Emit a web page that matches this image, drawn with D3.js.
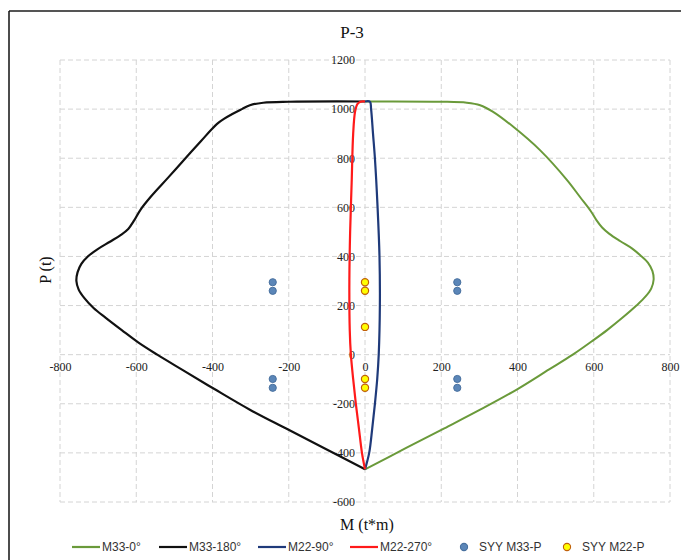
<!DOCTYPE html>
<html>
<head>
<meta charset="utf-8">
<script src="https://cdn.jsdelivr.net/npm/d3@7"></script>
<style>
  body { margin: 0; background: #fff; }
  svg { display: block; }
</style>
</head>
<body>
<svg id="chart" width="681" height="560"></svg>
<script>
// ---- Data ----
const xTicks = [-800, -600, -400, -200, 0, 200, 400, 600, 800];
const yTicks = [-600, -400, -200, 0, 200, 400, 600, 800, 1000, 1200];

// M33-0° (green)
const m33_0_P = [1031, 1030, 1026, 1016, 990, 928, 833, 711, 640, 585, 548, 518, 492, 462, 432, 405, 375, 340, 305, 270, 237, 200, 150, 100, 60, 0, -60, -142, -224, -300, -380, -467];
const m33_0_M = [0, 200, 267, 302, 335, 389, 459, 530, 565, 592, 607, 622, 641, 670, 701, 722, 742, 754, 757, 751, 736, 712, 675, 635, 600, 545, 483, 398, 302, 208, 108, 0];

// M33-180° (black)
const m33_180_P = [1031, 1030, 1026, 1016, 1000, 980, 960, 940, 915, 870, 793, 720, 643, 590, 548, 512, 487, 460, 430, 400, 370, 335, 300, 265, 230, 190, 150, 100, 50, 0, -61, -140, -224, -300, -380, -467];
const m33_180_M = [0, -200, -267, -302, -323, -348, -370, -388, -404, -430, -475, -517, -562, -589, -605, -621, -641, -669, -701, -727, -744, -754, -757, -751, -736, -712, -680, -638, -595, -545, -480, -395, -302, -208, -108, 0];

// M22-90° (blue)
const m22_90_P = [1031, 1030, 1000, 900, 800, 600, 400, 200, 0, -100, -200, -300, -400, -467];
const m22_90_M = [0, 13, 16, 21, 26, 33, 38, 39, 36, 32, 26, 19, 11, 0];

// M22-270° (red)
const m22_270_P = [1031, 1030, 1020, 990, 900, 700, 500, 300, 100, 0, -100, -200, -300, -400, -467];
const m22_270_M = [0, -12, -20, -26, -31, -35, -39, -41, -40, -37, -31, -24, -16, -8, 0];

// SYY points
const syyM33_M = [-242, -242, -242, -242, 242, 242, 242, 242];
const syyM33_P = [295, 260, -99, -135, 295, 260, -99, -135];
const syyM22_M = [0, 0, 0, 0, 0];
const syyM22_P = [295, 260, 113, -99, -135];

const legendLabels = ["M33-0°", "M33-180°", "M22-90°", "M22-270°", "SYY M33-P", "SYY M22-P"];

// ---- Chart ----
const svg = d3.select("#chart");
const x = d3.scaleLinear().domain([-800, 800]).range([60, 670]);
const y = d3.scaleLinear().domain([-600, 1200]).range([502, 60]);

// outer frame
svg.append("line").attr("x1", 9).attr("x2", 681).attr("y1", 11).attr("y2", 11)
  .attr("stroke", "#555").attr("stroke-width", 2);
svg.append("line").attr("x1", 9).attr("x2", 9).attr("y1", 11).attr("y2", 560)
  .attr("stroke", "#111").attr("stroke-width", 1.5);

// grid
const grid = svg.append("g");
grid.selectAll("line.v").data(xTicks).join("line")
  .attr("x1", d => x(d)).attr("x2", d => x(d))
  .attr("y1", y(1200)).attr("y2", y(-600))
  .attr("stroke", "#d4d4d4").attr("stroke-width", 1).attr("stroke-dasharray", "5,3");
grid.selectAll("line.h").data(yTicks).join("line")
  .attr("y1", d => y(d)).attr("y2", d => y(d))
  .attr("x1", x(-800)).attr("x2", x(800))
  .attr("stroke", "#d4d4d4").attr("stroke-width", 1).attr("stroke-dasharray", "5,3");

// axes (labels only)
const tickFont = "'Liberation Serif', 'Times New Roman', serif";
const xAxis = svg.append("g").attr("transform", `translate(0,${y(0)})`)
  .call(d3.axisBottom(x).tickValues(xTicks).tickSize(0).tickPadding(8).tickFormat(d3.format("d")));
const yAxis = svg.append("g").attr("transform", `translate(${x(0)},0)`)
  .call(d3.axisLeft(y).tickValues(yTicks).tickSize(0).tickPadding(10).tickFormat(d3.format("d")));
[xAxis, yAxis].forEach(a => {
  a.select(".domain").remove();
  a.selectAll("text").attr("font-family", tickFont).attr("font-size", 12).attr("fill", "#222");
});
svg.selectAll(".tick text").text(function() { return this.textContent.replace("−", "-"); });

// curves
const line = d3.line().x(d => x(d[0])).y(d => y(d[1])).curve(d3.curveCatmullRom.alpha(0.5));
const zip = (M, P) => M.map((m, i) => [m, P[i]]);
const series = [
  { M: m33_0_M, P: m33_0_P, color: "#6a9a3a", w: 2 },
  { M: m33_180_M, P: m33_180_P, color: "#111111", w: 2.2 },
  { M: m22_90_M, P: m22_90_P, color: "#1f3a7a", w: 2.2 },
  { M: m22_270_M, P: m22_270_P, color: "#ff1a1a", w: 2.2 }
];
series.forEach(s => {
  svg.append("path").datum(zip(s.M, s.P)).attr("d", line)
    .attr("fill", "none").attr("stroke", s.color).attr("stroke-width", s.w)
    .attr("stroke-linejoin", "round");
});

// points
svg.append("g").selectAll("circle").data(zip(syyM33_M, syyM33_P)).join("circle")
  .attr("cx", d => x(d[0])).attr("cy", d => y(d[1])).attr("r", 3.6)
  .attr("fill", "#5b86b8").attr("stroke", "#48709f").attr("stroke-width", 1);
svg.append("g").selectAll("circle").data(zip(syyM22_M, syyM22_P)).join("circle")
  .attr("cx", d => x(d[0])).attr("cy", d => y(d[1])).attr("r", 3.6)
  .attr("fill", "#ffff00").attr("stroke", "#c0600a").attr("stroke-width", 1.2);

// titles
svg.append("text").attr("x", 352).attr("y", 38).attr("text-anchor", "middle")
  .attr("font-family", tickFont).attr("font-size", 17).attr("fill", "#111").text("P-3");
svg.append("text").attr("x", 367).attr("y", 530).attr("text-anchor", "middle")
  .attr("font-family", tickFont).attr("font-size", 16).attr("fill", "#111").text("M (t*m)");
svg.append("text").attr("transform", "translate(51,270) rotate(-90)").attr("text-anchor", "middle")
  .attr("font-family", tickFont).attr("font-size", 16).attr("fill", "#111").text("P (t)");

// legend
const legFont = "'Liberation Sans Narrow', 'Liberation Sans', Arial, sans-serif";
const legY = 547;
const legItems = [
  { type: "line", color: "#6a9a3a", x: 72 },
  { type: "line", color: "#111111", x: 159 },
  { type: "line", color: "#1f3a7a", x: 258 },
  { type: "line", color: "#ff1a1a", x: 350 },
  { type: "dot", fill: "#5b86b8", stroke: "#48709f", x: 464 },
  { type: "dot", fill: "#ffff00", stroke: "#c0600a", x: 567 }
];
const leg = svg.append("g");
legItems.forEach((it, i) => {
  let tx;
  if (it.type === "line") {
    leg.append("line").attr("x1", it.x).attr("x2", it.x + 28).attr("y1", legY).attr("y2", legY)
      .attr("stroke", it.color).attr("stroke-width", 2.2);
    tx = it.x + 30;
  } else {
    leg.append("circle").attr("cx", it.x).attr("cy", legY).attr("r", 3.6)
      .attr("fill", it.fill).attr("stroke", it.stroke).attr("stroke-width", 1.1);
    tx = it.x + 15;
  }
  leg.append("text").attr("x", tx).attr("y", legY + 4).attr("font-family", legFont)
    .attr("font-size", 12).attr("fill", "#333").text(legendLabels[i]);
});
</script>
</body>
</html>
